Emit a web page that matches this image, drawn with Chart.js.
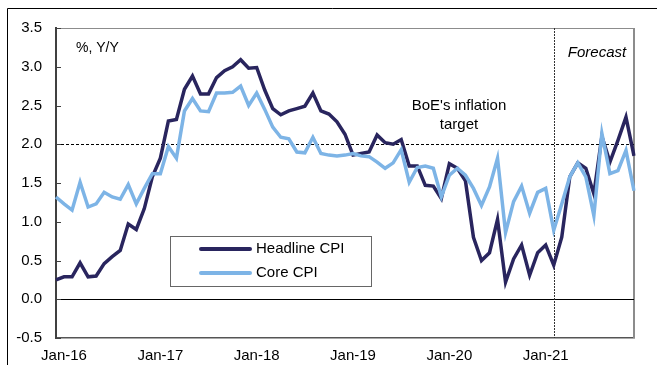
<!DOCTYPE html>
<html>
<head>
<meta charset="utf-8">
<script src="https://cdn.jsdelivr.net/npm/chart.js@4"></script>
<style>
  html, body { margin: 0; padding: 0; background: #fff; }
  #chart-container { width: 657px; height: 365px; }
</style>
</head>
<body>
<div id="chart-container"><canvas id="chart" width="657" height="365"></canvas></div>
<script>
// monthly categories, Dec-15 .. Dec-21
const monthNames = ['Jan', 'Feb', 'Mar', 'Apr', 'May', 'Jun', 'Jul', 'Aug', 'Sep', 'Oct', 'Nov', 'Dec'];
const years = ['16', '17', '18', '19', '20', '21'];
const months = ['Dec-15'];
years.forEach(yr => monthNames.forEach(m => months.push(m + '-' + yr)));

const xTickLabels = ['Jan-16', 'Jan-17', 'Jan-18', 'Jan-19', 'Jan-20', 'Jan-21'];

const headlineCPI = [
  0.25, 0.29, 0.29, 0.47, 0.29, 0.30, 0.46, 0.55, 0.63, 0.97, 0.90, 1.17, 1.58,
  1.82, 2.30, 2.32, 2.71, 2.88, 2.65, 2.65, 2.86, 2.95, 3.00, 3.09, 2.98,
  2.99, 2.70, 2.46, 2.38, 2.43, 2.46, 2.49, 2.66, 2.43, 2.39, 2.29, 2.13,
  1.86, 1.88, 1.90, 2.12, 2.02, 2.00, 2.06, 1.72, 1.72, 1.47, 1.46, 1.30,
  1.75, 1.69, 1.53, 0.80, 0.50, 0.60, 1.03, 0.22, 0.52, 0.70, 0.31, 0.60,
  0.70, 0.44, 0.80, 1.58, 1.76, 1.69, 1.36, 2.10, 1.77, 2.05, 2.35, 1.85
];
const coreCPI = [
  1.32, 1.23, 1.15, 1.51, 1.19, 1.23, 1.38, 1.32, 1.29, 1.48, 1.23, 1.43, 1.62,
  1.62, 1.97, 1.82, 2.43, 2.59, 2.43, 2.42, 2.66, 2.66, 2.67, 2.75, 2.50,
  2.66, 2.45, 2.22, 2.09, 2.07, 1.90, 1.89, 2.09, 1.88, 1.86, 1.85, 1.86,
  1.88, 1.85, 1.84, 1.77, 1.69, 1.76, 1.93, 1.51, 1.70, 1.72, 1.69, 1.32,
  1.60, 1.69, 1.60, 1.43, 1.21, 1.45, 1.82, 0.86, 1.26, 1.46, 1.11, 1.38,
  1.43, 0.89, 1.23, 1.58, 1.76, 1.58, 1.08, 2.14, 1.62, 1.66, 1.92, 1.40
];

const inflationTarget = 2.0;
const forecastStart = 'Feb-21';

const FONT = 'Arial, "Liberation Sans", sans-serif';

const overlay = {
  id: 'overlay',
  beforeDraw(chart) {
    const ctx = chart.ctx;
    ctx.save();
    ctx.strokeStyle = '#000';
    ctx.lineWidth = 1;
    ctx.beginPath();
    ctx.moveTo(7.5, 365);
    ctx.lineTo(7.5, 8.5);
    ctx.lineTo(657, 8.5);
    ctx.stroke();
    ctx.restore();
  },
  beforeDatasetsDraw(chart) {
    const { ctx, chartArea: a, scales: { x, y } } = chart;
    ctx.save();
    // top and right border of plot
    ctx.strokeStyle = '#8c8c8c';
    ctx.lineWidth = 1;
    ctx.beginPath();
    ctx.moveTo(a.left, a.top + 0.5);
    ctx.lineTo(a.right, a.top + 0.5);
    ctx.stroke();
    ctx.lineWidth = 2;
    ctx.beginPath();
    ctx.moveTo(a.right, a.top);
    ctx.lineTo(a.right, a.bottom);
    ctx.stroke();

    // zero line
    const y0 = Math.round(y.getPixelForValue(0)) + 0.5;
    ctx.strokeStyle = '#000';
    ctx.lineWidth = 1;
    ctx.beginPath();
    ctx.moveTo(a.left, y0);
    ctx.lineTo(a.right, y0);
    ctx.stroke();

    // inflation target
    const yt = Math.round(y.getPixelForValue(inflationTarget)) + 0.5;
    ctx.setLineDash([3, 2]);
    ctx.beginPath();
    ctx.moveTo(a.left, yt);
    ctx.lineTo(a.right, yt);
    ctx.stroke();

    // forecast divider
    const xf = Math.round(x.getPixelForValue(months.indexOf(forecastStart))) + 0.5;
    ctx.strokeStyle = '#333';
    ctx.setLineDash([2, 1]);
    ctx.beginPath();
    ctx.moveTo(xf, a.top);
    ctx.lineTo(xf, a.bottom);
    ctx.stroke();
    ctx.setLineDash([]);

    // inner tick marks on y axis
    ctx.strokeStyle = '#404040';
    ctx.lineWidth = 1;
    y.ticks.forEach(t => {
      const py = Math.round(y.getPixelForValue(t.value)) + 0.5;
      ctx.beginPath();
      ctx.moveTo(a.left, py);
      ctx.lineTo(a.left + 5, py);
      ctx.stroke();
    });
    ctx.restore();
  },
  afterDatasetsDraw(chart) {
    const ctx = chart.ctx;
    ctx.save();
    ctx.fillStyle = '#000';
    ctx.textBaseline = 'middle';

    ctx.font = '14px ' + FONT;
    ctx.textAlign = 'left';
    ctx.fillText('%, Y/Y', 76, 48);

    ctx.font = '15px ' + FONT;
    ctx.textAlign = 'center';
    ctx.fillText("BoE's inflation", 459, 106);
    ctx.fillText('target', 459, 125);

    ctx.font = 'italic 15px ' + FONT;
    ctx.fillText('Forecast', 597, 53);

    // legend
    ctx.fillStyle = '#fff';
    ctx.fillRect(170, 236, 201, 50);
    ctx.strokeStyle = '#666';
    ctx.lineWidth = 1;
    ctx.strokeRect(170.5, 236.5, 201, 50);
    chart.data.datasets.forEach((ds, i) => {
      const ly = 249 + i * 24;
      ctx.strokeStyle = ds.borderColor;
      ctx.lineWidth = 4;
      ctx.lineCap = 'round';
      ctx.beginPath();
      ctx.moveTo(201, ly);
      ctx.lineTo(250, ly);
      ctx.stroke();
      ctx.fillStyle = '#000';
      ctx.font = '15px ' + FONT;
      ctx.textAlign = 'left';
      ctx.fillText(ds.label, 256, ly);
    });
    ctx.restore();
  }
};

const canvas = document.getElementById('chart');
const chart = new Chart(canvas, {
  type: 'line',
  data: {
    labels: months,
    datasets: [
      {
        label: 'Headline CPI',
        data: headlineCPI,
        borderColor: '#29255e',
        borderWidth: 3.5,
        pointRadius: 0,
        tension: 0,
        order: 2
      },
      {
        label: 'Core CPI',
        data: coreCPI,
        borderColor: '#7db4e6',
        borderWidth: 3.5,
        pointRadius: 0,
        tension: 0,
        order: 1
      }
    ]
  },
  options: {
    responsive: false,
    animation: false,
    layout: { padding: { left: 0, top: 28, right: 23, bottom: 0 } },
    plugins: {
      legend: { display: false },
      tooltip: { enabled: false }
    },
    scales: {
      x: {
        type: 'category',
        offset: false,
        grid: { display: false, drawTicks: false },
        border: { display: true, color: '#555', width: 1.5 },
        ticks: {
          autoSkip: false,
          maxRotation: 0,
          minRotation: 0,
          padding: 9,
          color: '#000',
          font: { family: FONT, size: 15 },
          callback: function (value) {
            const lbl = this.getLabelForValue(value);
            return xTickLabels.includes(lbl) ? lbl : '';
          }
        },
        afterFit: s => { s.height = 27; }
      },
      y: {
        min: -0.5,
        max: 3.5,
        grid: { display: false, drawTicks: false },
        border: { display: true, color: '#404040', width: 2 },
        ticks: {
          stepSize: 0.5,
          padding: 14,
          color: '#000',
          font: { family: FONT, size: 15 },
          callback: v => v.toFixed(1)
        },
        afterFit: s => { s.width = 56; }
      }
    }
  },
  plugins: [overlay]
});
</script>
</body>
</html>
